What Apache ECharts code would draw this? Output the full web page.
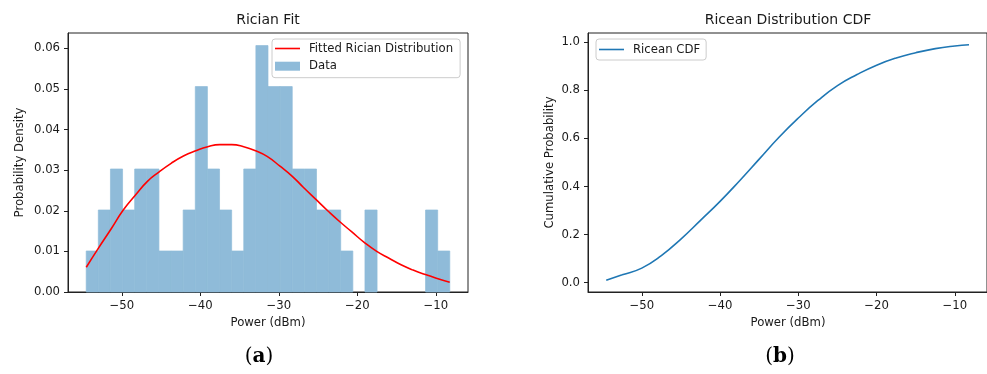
<!DOCTYPE html>
<html>
<head>
<meta charset="utf-8">
<script src="https://cdn.jsdelivr.net/npm/echarts@6/dist/echarts.min.js"></script>
<style>
html,body{margin:0;padding:0;background:#fff;}
#c{width:987px;height:374px;}
</style>
</head>
<body>
<div id="c"></div>
<script>
// ---------- data ----------
// histogram bin edges (dBm) and densities
const binEdges = [-54.55, -53.006, -51.461, -49.917, -48.373, -46.828, -45.284, -43.740, -42.195, -40.651,
  -39.107, -37.562, -36.018, -34.474, -32.929, -31.385, -29.841, -28.296, -26.752, -25.208,
  -23.663, -22.119, -20.575, -19.030, -17.486, -15.942, -14.397, -12.853, -11.309, -9.764, -8.22];
const binDensity = [0.0101, 0.0202, 0.0303, 0.0202, 0.0303, 0.0303, 0.0101, 0.0101, 0.0202, 0.0506,
  0.0303, 0.0202, 0.0101, 0.0303, 0.0607, 0.0506, 0.0506, 0.0303, 0.0303, 0.0202,
  0.0202, 0.0101, 0, 0.0202, 0, 0, 0, 0, 0.0202, 0.0101];

// fitted Rician pdf
const fitX = [-54.54, -52.99, -51.32, -49.83, -48.27, -46.78, -45.25, -43.73, -42.16, -40.59,
  -39.06, -37.53, -36.0, -34.48, -32.95, -31.5, -29.86, -28.29, -26.89, -25.28,
  -23.71, -22.23, -20.7, -19.05, -17.53, -15.96, -14.43, -12.9, -11.33, -9.93, -8.23];
const fitY = [0.0061, 0.0108, 0.0157, 0.0202, 0.0239, 0.0272, 0.0296, 0.0317, 0.0335, 0.0348,
  0.0358, 0.0363, 0.0363, 0.0358, 0.0348, 0.0334, 0.0310, 0.0285, 0.0258, 0.0228,
  0.0199, 0.0173, 0.0148, 0.0121, 0.0100, 0.0083, 0.0067, 0.0054, 0.0043, 0.0034, 0.0024];

// Ricean CDF
const cdfX = [-54.54, -52.5, -50, -47.5, -45, -42.5, -40, -37.5, -35, -32.5,
  -30, -27.5, -25, -22.5, -20, -17.5, -15, -12.5, -10, -8.2];
const cdfY = [0.0096, 0.032, 0.060, 0.112, 0.181, 0.259, 0.338, 0.424, 0.514, 0.604,
  0.685, 0.758, 0.820, 0.866, 0.905, 0.935, 0.957, 0.974, 0.985, 0.990];

// tick labels
const xTicks = [-50, -40, -30, -20, -10];
const yTicksPdf = [0, 0.01, 0.02, 0.03, 0.04, 0.05, 0.06];
const yTicksCdf = [0, 0.2, 0.4, 0.6, 0.8, 1.0];

// texts
const titleLeft = 'Rician Fit';
const titleRight = 'Ricean Distribution CDF';
const xName = 'Power (dBm)';
const yNameLeft = 'Probability Density';
const yNameRight = 'Cumulative Probability';

// ---------- chart ----------
const FS = 11.7;
const TXT = '#1a1a1a';
const FONT = 'DejaVu Sans';
const BAR = '#8fbbd9';
const LINE_ICON = 'path://M0,0 L25,0 L25,1.6 L0,1.6 Z';
const fmtMinus = v => (v < 0 ? '\u2212' + Math.abs(v) : String(v));

const histData = binDensity.map((d, i) => [binEdges[i], binEdges[i + 1], d]);
const fitData = fitX.map((x, i) => [x, fitY[i]]);
const cdfData = cdfX.map((x, i) => [x, cdfY[i]]);

function xAxisCfg(gi) {
  return {
    type: 'value', gridIndex: gi, min: -56.87, max: -5.9,
    axisLine: { onZero: false, lineStyle: { color: '#222', width: 1 } },
    axisTick: { length: 4, lineStyle: { color: '#222', width: 1 }, customValues: xTicks },
    axisLabel: { margin: 8, color: TXT, fontSize: FS, fontFamily: FONT, customValues: xTicks, formatter: fmtMinus },
    splitLine: { show: false }
  };
}
function yAxisCfg(gi, min, max, ticks, dec) {
  return {
    type: 'value', gridIndex: gi, min: min, max: max,
    axisLine: { show: true, onZero: false, lineStyle: { color: '#222', width: 1 } },
    axisTick: { show: true, length: 4, lineStyle: { color: '#222', width: 1 }, customValues: ticks },
    axisLabel: { margin: 8, color: TXT, fontSize: FS, fontFamily: FONT, customValues: ticks,
      formatter: v => v.toFixed(dec) },
    splitLine: { show: false }
  };
}

const chart = echarts.init(document.getElementById('c'), null, { renderer: 'canvas' });
chart.setOption({
  animation: false,
  backgroundColor: '#fff',
  textStyle: { fontFamily: FONT },
  grid: [
    { left: 68, top: 33, width: 400, height: 259, show: true, borderColor: '#222', borderWidth: 1, backgroundColor: 'transparent' },
    { left: 588, top: 33, width: 400, height: 259, show: true, borderColor: '#222', borderWidth: 1, backgroundColor: 'transparent' }
  ],
  xAxis: [xAxisCfg(0), xAxisCfg(1)],
  yAxis: [
    yAxisCfg(0, 0, 0.0638, yTicksPdf, 2),
    yAxisCfg(1, -0.0394, 1.039, yTicksCdf, 1)
  ],
  legend: [
    {
      left: 272, top: 39, orient: 'vertical', itemWidth: 25, itemHeight: 9, itemGap: 4.7,
      padding: [3, 7, 5, 3], borderColor: '#cccccc', borderWidth: 1, borderRadius: 3,
      backgroundColor: 'rgba(255,255,255,0.8)',
      textStyle: { fontSize: FS, fontFamily: FONT, color: TXT, lineHeight: 13, padding: [0, 0, 0, 4] },
      data: [
        { name: 'Fitted Rician Distribution', icon: LINE_ICON, itemStyle: { color: '#ff0000' } },
        { name: 'Data', icon: 'rect', itemStyle: { color: BAR } }
      ]
    },
    {
      left: 596, top: 39, orient: 'vertical', itemWidth: 25, itemHeight: 9,
      padding: [4, 6, 4, 3], borderColor: '#cccccc', borderWidth: 1, borderRadius: 3,
      backgroundColor: 'rgba(255,255,255,0.8)',
      textStyle: { fontSize: FS, fontFamily: FONT, color: TXT, lineHeight: 13, padding: [0, 0, 0, 4] },
      data: [{ name: 'Ricean CDF', icon: LINE_ICON, itemStyle: { color: '#1f77b4' } }]
    }
  ],
  series: [
    {
      name: 'Data', type: 'custom', xAxisIndex: 0, yAxisIndex: 0,
      itemStyle: { color: BAR },
      encode: { x: [0, 1], y: 2 },
      data: histData,
      renderItem: function (params, api) {
        if (!(api.value(2) > 0)) {
          return { type: 'group', children: [] };
        }
        const p0 = api.coord([api.value(0), 0]);
        const p1 = api.coord([api.value(1), api.value(2)]);
        return {
          type: 'rect',
          shape: { x: p0[0], y: p1[1], width: p1[0] - p0[0], height: p0[1] - p1[1] },
          style: { fill: BAR, stroke: BAR, lineWidth: 0.7 }
        };
      }
    },
    {
      name: 'Fitted Rician Distribution', type: 'line', xAxisIndex: 0, yAxisIndex: 0,
      data: fitData, showSymbol: false, symbol: 'none', smooth: 0.5,
      lineStyle: { color: '#ff0000', width: 1.6 }, itemStyle: { color: '#ff0000' }
    },
    {
      name: 'Ricean CDF', type: 'line', xAxisIndex: 1, yAxisIndex: 1,
      data: cdfData, showSymbol: false, symbol: 'none', smooth: 0.5,
      lineStyle: { color: '#1f77b4', width: 1.6 }, itemStyle: { color: '#1f77b4' }
    }
  ],
  graphic: [
    { type: 'text', x: 268, y: 20.7, style: { text: titleLeft, fontSize: 14, fontFamily: FONT, fill: TXT, align: 'center', verticalAlign: 'middle' } },
    { type: 'text', x: 788, y: 20.7, style: { text: titleRight, fontSize: 14, fontFamily: FONT, fill: TXT, align: 'center', verticalAlign: 'middle' } },
    { type: 'text', x: 268, y: 322.5, style: { text: xName, fontSize: FS, fontFamily: FONT, fill: TXT, align: 'center', verticalAlign: 'middle' } },
    { type: 'text', x: 788, y: 322.5, style: { text: xName, fontSize: FS, fontFamily: FONT, fill: TXT, align: 'center', verticalAlign: 'middle' } },
    { type: 'text', x: 20, y: 162.5, rotation: Math.PI / 2, style: { text: yNameLeft, fontSize: FS, fontFamily: FONT, fill: TXT, align: 'center', verticalAlign: 'middle' } },
    { type: 'text', x: 549.5, y: 162.5, rotation: Math.PI / 2, style: { text: yNameRight, fontSize: FS, fontFamily: FONT, fill: TXT, align: 'center', verticalAlign: 'middle' } },
    { type: 'text', x: 259, y: 357, style: { text: '{p|(}{b|a}{p|)}', align: 'center', verticalAlign: 'middle',
      rich: { p: { fontSize: 20, fontFamily: 'DejaVu Serif', fill: '#000' }, b: { fontSize: 20, fontFamily: 'DejaVu Serif', fontWeight: 'bold', fill: '#000' } } } },
    { type: 'text', x: 780, y: 357, style: { text: '{p|(}{b|b}{p|)}', align: 'center', verticalAlign: 'middle',
      rich: { p: { fontSize: 20, fontFamily: 'DejaVu Serif', fill: '#000' }, b: { fontSize: 20, fontFamily: 'DejaVu Serif', fontWeight: 'bold', fill: '#000' } } } }
  ]
});
</script>
</body>
</html>
